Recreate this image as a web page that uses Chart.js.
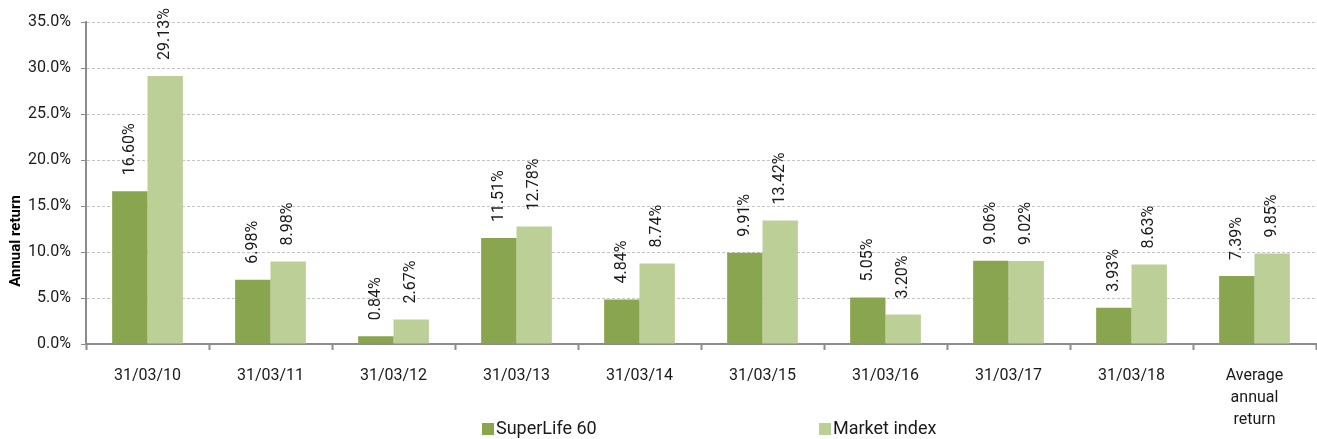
<!DOCTYPE html>
<html>
<head>
<meta charset="utf-8">
<script src="https://cdn.jsdelivr.net/npm/chart.js@4.4.1/dist/chart.umd.min.js"></script>
<style>
  html, body { margin: 0; padding: 0; background: #fff; }
  #wrap { width: 1317px; height: 439px; }
</style>
</head>
<body>
<div id="wrap"><canvas id="returnsChart" width="1317" height="439"></canvas></div>
<script>
// data
const categories = ["31/03/10", "31/03/11", "31/03/12", "31/03/13", "31/03/14",
  "31/03/15", "31/03/16", "31/03/17", "31/03/18", ["Average", "annual", "return"]];
const superLife60 = [16.60, 6.98, 0.84, 11.51, 4.84, 9.91, 5.05, 9.06, 3.93, 7.39];
const marketIndex = [29.13, 8.98, 2.67, 12.78, 8.74, 13.42, 3.20, 9.02, 8.63, 9.85];
const seriesNames = ["SuperLife 60", "Market index"];
const yTicks = { min: 0, max: 35, step: 5 };
const yTitle = "Annual return";

const DARK = "#8aa54f";
const LIGHT = "#bbcf97";
const AXIS = "#8c8c8c";
const FONT = "Roboto";

// rotated value labels, y title and the legend
const extrasPlugin = {
  id: "extras",
  afterDatasetsDraw(chart){
    const ctx = chart.ctx;
    ctx.save();
    ctx.font = `16px ${FONT}`;
    ctx.fillStyle = "#1a1a1a";
    ctx.textAlign = "left";
    ctx.textBaseline = "middle";
    chart.data.datasets.forEach((ds, di) => {
      chart.getDatasetMeta(di).data.forEach((bar, i) => {
        ctx.save();
        ctx.translate(bar.x, bar.y - 16);
        ctx.rotate(-Math.PI/2);
        ctx.fillText(ds.data[i].toFixed(2) + "%", 0, 0);
        ctx.restore();
      });
    });
    ctx.restore();
  },
  afterDraw(chart){
    const ctx = chart.ctx;
    // axis title
    ctx.save();
    ctx.font = `bold 15px ${FONT}`;
    ctx.fillStyle = "#000";
    ctx.textAlign = "center";
    ctx.textBaseline = "middle";
    ctx.translate(16, 241);
    ctx.rotate(-Math.PI/2);
    ctx.fillText(yTitle, 0, 0);
    ctx.restore();

    // legend
    const spots = [482, 819];
    ctx.save();
    ctx.font = `18px ${FONT}`;
    ctx.textBaseline = "middle";
    ctx.textAlign = "left";
    chart.data.datasets.forEach((ds, di) => {
      const x = spots[di];
      ctx.fillStyle = ds.backgroundColor;
      ctx.fillRect(x, 423, 12, 12);
      ctx.fillStyle = "#1a1a1a";
      ctx.fillText(ds.label, x + 14, 429);
    });
    ctx.restore();
  }
};

const ctx = document.getElementById("returnsChart").getContext("2d");
new Chart(ctx, {
  type: "bar",
  data: {
    labels: categories,
    datasets: [
      { label: seriesNames[0], data: superLife60, backgroundColor: DARK },
      { label: seriesNames[1], data: marketIndex, backgroundColor: LIGHT }
    ]
  },
  options: {
    responsive: false,
    animation: false,
    layout: { padding: { top: 22, right: 1, left: 0, bottom: 0 } },
    datasets: { bar: { categoryPercentage: 0.575, barPercentage: 1 } },
    plugins: { legend: { display: false }, tooltip: { enabled: false } },
    scales: {
      x: {
        grid: { offset: true, drawOnChartArea: false, tickLength: 6, tickColor: AXIS, tickWidth: 2 },
        border: { color: AXIS, width: 2 },
        ticks: { padding: 15, color: "#1a1a1a", font: { family: FONT, size: 16, lineHeight: 1.375 }, maxRotation: 0 },
        afterFit(scale){ scale.height = 95; }
      },
      y: {
        min: yTicks.min,
        max: yTicks.max,
        grid: { color: "#c4c4c4", tickColor: AXIS, tickLength: 5, tickBorderDash: [] },
        border: { color: AXIS, width: 2, dash: [3, 2] },
        ticks: {
          stepSize: yTicks.step,
          padding: 10,
          color: "#1a1a1a",
          font: { family: FONT, size: 16 },
          callback: v => v.toFixed(1) + "%"
        },
        afterFit(scale){ scale.width = 86; }
      }
    }
  },
  plugins: [extrasPlugin]
});
</script>
</body>
</html>
